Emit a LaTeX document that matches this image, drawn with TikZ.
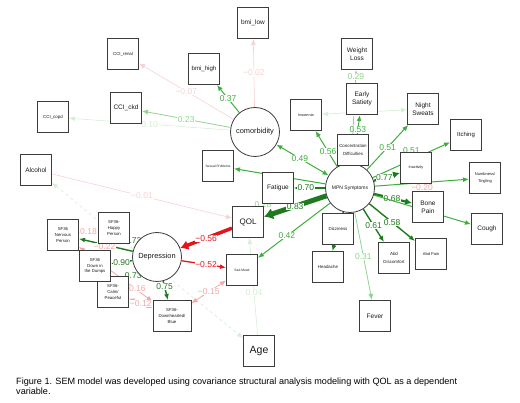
\documentclass[tikz,border=0pt]{standalone}
\usepackage{fontspec}
\setmainfont{Liberation Sans}
\usetikzlibrary{arrows.meta,backgrounds}
\definecolor{Ink}{HTML}{1A1A1A}
\definecolor{BoxLine}{HTML}{3C3C3C}
\definecolor{DkGreen}{HTML}{1E7A1E}
\definecolor{Green}{HTML}{3DAE3D}
\definecolor{LtGreen}{HTML}{92D292}
\definecolor{PaleGreen}{HTML}{D6EED6}
\definecolor{Red}{HTML}{E4141B}
\definecolor{Pink}{HTML}{F2A8A8}
\definecolor{PalePink}{HTML}{F7D2D2}
\tikzset{
  obs/.style={draw=BoxLine,line width=1pt,fill=white,minimum width=31pt,minimum height=31pt,inner sep=0.5pt,align=center,text=Ink,font=\fontsize{6.5}{8}\selectfont},
  obssmall/.style={obs,font=\fontsize{4.4}{8}\selectfont},
  obstiny/.style={obs,font=\fontsize{3.3}{4}\selectfont},
  obssf/.style={obs,font=\fontsize{4.3}{5.6}\selectfont},
  latent/.style={circle,draw=BoxLine,line width=0.8pt,fill=white,minimum size=49pt,inner sep=0pt,align=center,text=Ink,font=\fontsize{7.4}{8}\selectfont},
  reg/.style={-{Latex[length=6pt,width=5pt]},line width=1pt,color=Green},
  regDark/.style={reg,color=DkGreen,line width=1.4pt},
  regBold/.style={regDark,line width=2.2pt,-{Latex[length=7pt,width=7pt]}},
  regHeavy/.style={regDark,line width=5pt,-{Latex[length=9pt,width=12pt]}},
  regLight/.style={reg,color=LtGreen,line width=0.8pt},
  regPale/.style={reg,color=PaleGreen,line width=0.6pt},
  regPink/.style={reg,color=PalePink,line width=0.6pt},
  regRed/.style={reg,color=Red,line width=1.3pt},
  regRedHeavy/.style={reg,color=Red,line width=3.5pt,-{Latex[length=8pt,width=10pt]}},
  cov/.style={reg,{Latex[length=6pt,width=5pt]}-{Latex[length=6pt,width=5pt]}},
  covPink/.style={cov,color=Pink,line width=0.8pt},
  covPale/.style={cov,color=PaleGreen,line width=0.7pt},
  est/.style={pos=.5,fill=white,inner sep=0.5pt,font=\fontsize{8.5}{9}\selectfont},
  caption/.style={align=left,text=black,inner sep=0pt,font=\fontsize{9.1}{10.2}\selectfont}
}
\begin{document}
\begin{tikzpicture}[x=1pt,y=-1pt]
\useasboundingbox (0,0) rectangle (520,403);
\node[latent] (comorb) at (255,132) {comorbidity};
\node[latent,font=\fontsize{5}{6}\selectfont] (mpn) at (350,188) {MPN Symptoms};
\node[latent] (dep) at (157,257) {Depression};
\node[obs] (bmilow) at (253,23) {bmi\_low};
\node[obs,font=\fontsize{6.1}{7}\selectfont] (bmihigh) at (204,69) {bmi\_high};
\node[obssmall] (ccirenal) at (123,54) {CCI\_renal};
\node[obs] (ccickd) at (126,108) {CCI\_ckd};
\node[obssmall] (ccicopd) at (53,117) {CCI\_copd};
\node[obs] (alcohol) at (36,170) {Alcohol};
\node[obstiny] (sexual) at (218,166) {Sexual Problems};
\node[obs] (fatigue) at (278,188) {Fatigue};
\node[obs,font=\fontsize{8}{9}\selectfont] (qol) at (248,222) {QOL};
\node[obs,font=\fontsize{10.5}{12}\selectfont] (age) at (259,351) {Age};
\node[obssmall] (conc) at (353,150) {Concentration\\Difficulties};
\node[obs] (early) at (362,99) {Early\\Satiety};
\node[obs] (weight) at (357,54) {Weight\\Loss};
\node[obstiny,font=\fontsize{3.8}{4}\selectfont] (insom) at (306,115) {Insomnia};
\node[obs] (night) at (423,109) {Night\\Sweats};
\node[obs,font=\fontsize{6}{7}\selectfont] (itch) at (466,135) {Itching};
\node[obstiny,font=\fontsize{3.8}{4}\selectfont] (inact) at (416,168) {Inactivity};
\node[obssmall,font=\fontsize{4}{7}\selectfont] (numb) at (485,178) {Numbness/\\Tingling};
\node[obs] (bone) at (428,207) {Bone\\Pain};
\node[obs] (cough) at (487,229) {Cough};
\node[obssmall,font=\fontsize{4}{7}\selectfont] (abdpain) at (431,254) {Abd Pain};
\node[obssmall] (abddis) at (394,258) {Abd\\Discomfort};
\node[obssmall] (dizzy) at (338,229) {Dizziness};
\node[obssmall] (head) at (328,267) {Headache};
\node[obs] (fever) at (375,316) {Fever};
\node[obstiny] (sadmood) at (242,270) {Sad Mood};
\node[obssf] (nerv) at (63,235) {SF36\\Nervous\\Person};
\node[obssf] (happy) at (114,228) {SF36-\\Happy\\Person};
\node[obssf] (calm) at (113,292) {SF36-\\Calm/\\Peaceful};
\node[obssf] (dumps) at (95,266) {SF36\\Down in\\the Dumps};
\node[obssf,minimum width=38pt] (blue) at (172,316) {SF36-\\Downhearted/\\Blue};
\node[caption,anchor=north west] (cap) at (16,378) {Figure 1. SEM model was developed using covariance structural analysis modeling with QOL as a dependent\\variable.};
\begin{scope}[on background layer]
\draw[regPink] (comorb) -- (bmilow) node[est]{−0.02};
\draw[reg] (comorb) -- (bmihigh) node[est]{0.37};
\draw[regPink] (comorb) -- (ccirenal) node[est]{−0.07};
\draw[regLight] (comorb) -- (ccickd) node[est]{0.23};
\draw[regPale] (comorb) -- (ccicopd) node[est]{0.10};
\draw[cov] (comorb) -- (mpn) node[est,pos=.45]{0.49};
\draw[reg] (mpn) -- (sexual) node[est]{0.54};
\draw[regBold] (mpn) -- (fatigue) node[est,pos=.62]{0.70};
\draw[regHeavy] (mpn) -- (qol) node[est]{0.83};
\draw[regLight] (fatigue) -- (qol) node[est]{0.28};
\draw[reg] (mpn) -- (conc);
\draw[reg] (mpn) -- (early) node[est,pos=.69]{0.53};
\draw[regLight] (mpn) -- (weight) node[est,pos=.93]{0.29};
\draw[covPale] (insom) -- (night) node[est,pos=.4]{0.25};
\draw[reg] (mpn) -- (insom) node[est,pos=.42]{0.56};
\draw[reg] (mpn) -- (night) node[est]{0.51};
\draw[reg] (mpn) -- (itch) node[est,yshift=9pt]{0.51};
\draw[regBold] (mpn) -- (inact) node[est,pos=.4]{0.77};
\draw[reg] (mpn) -- (numb);
\draw[covPink] (inact) -- (bone) node[est]{−0.20};
\draw[regBold] (mpn) -- (bone) node[est,pos=.47]{0.68};
\draw[reg] (mpn) -- (cough);
\draw[regDark] (mpn) -- (abdpain) node[est]{0.58};
\draw[regDark] (mpn) -- (abddis) node[est]{0.61};
\draw[reg] (mpn) -- (dizzy);
\draw[regDark] (mpn) -- (head);
\draw[regLight] (mpn) -- (fever) node[est]{0.31};
\draw[reg] (mpn) -- (sadmood) node[est,pos=.6]{0.42};
\draw[regPale] (age) -- (qol) node[est,pos=.44]{0.04};
\draw[regPink] (alcohol) -- (qol) node[est]{−0.01};
\draw[covPale,dashed] (alcohol) -- (age);
\draw[regRedHeavy] (qol) -- (dep) node[est]{−0.56};
\draw[regRed] (dep) -- (sadmood) node[est,pos=.55]{−0.52};
\draw[regDark] (dep) -- (nerv) node[est]{0.64};
\draw[regDark] (dep) -- (happy) node[est]{0.73};
\draw[regDark] (dep) -- (dumps) node[est]{0.90};
\draw[regDark] (dep) -- (calm) node[est]{0.73};
\draw[regDark] (dep) -- (blue) node[est,pos=.3]{0.75};
\draw[covPink] (nerv) -- (happy) node[est]{0.18};
\draw[covPink] (happy) -- (dumps) node[est]{−0.22};
\draw[covPink] (nerv) -- (blue) node[est,pos=.76]{−0.16};
\draw[covPink] (calm) -- (blue) node[est]{−0.12};
\draw[covPink] (blue) -- (sadmood) node[est]{−0.15};
\end{scope}
\end{tikzpicture}
\end{document}
